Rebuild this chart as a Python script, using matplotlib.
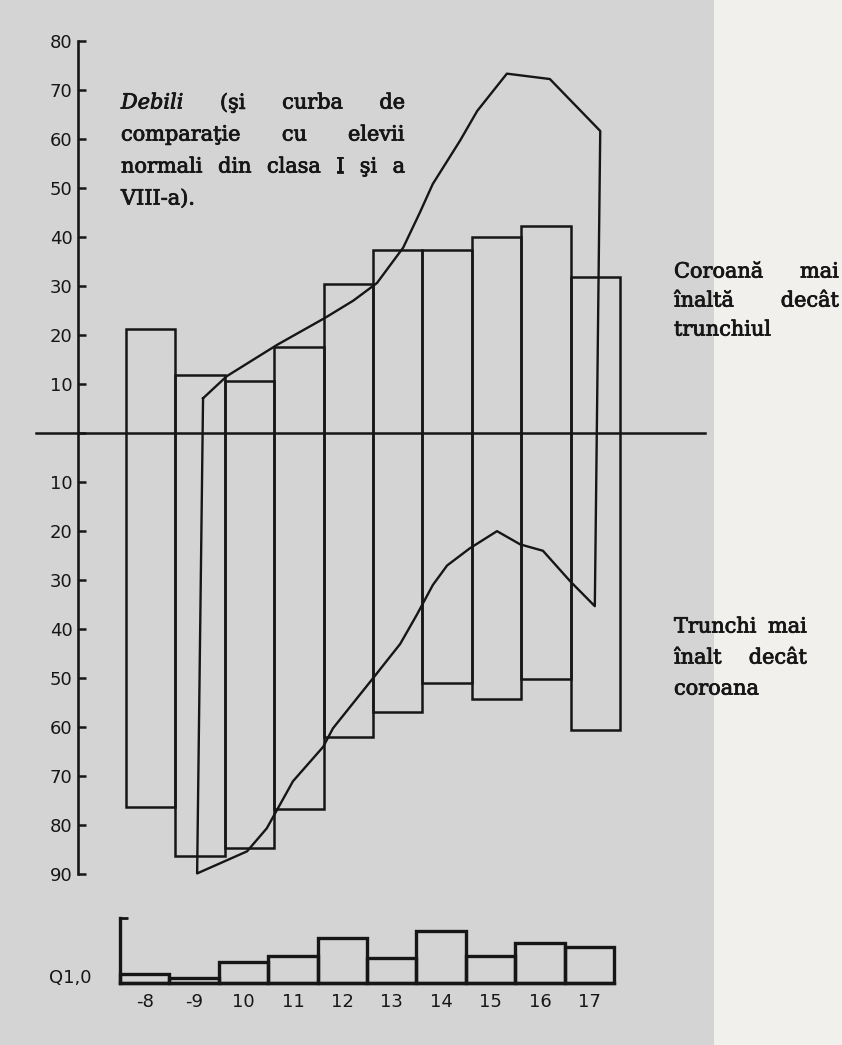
import matplotlib
matplotlib.use('Agg')

import numpy as np
from matplotlib import pyplot as plt
from matplotlib import patheffects as pe
from matplotlib.patches import Rectangle

W, H = 842, 1045
DPI = 100

# age groups (lower axis labels)
ages = ['-8', '-9', '10', '11', '12', '13', '14', '15', '16', '17']
# % crown taller than trunk (up) and trunk taller than crown (down)
crown_up = [21.2, 11.9, 10.6, 17.6, 30.3, 37.3, 37.3, 40.0, 42.2, 31.8]
trunk_down = [76.2, 86.3, 84.6, 76.7, 61.9, 56.8, 51.0, 54.2, 50.1, 60.5]

# comparison curve, normal pupils (x in bar units)
normal_up_x = [1.06, 1.54, 2.56, 3.53, 4.10, 4.58, 5.11, 5.45, 5.71, 6.26, 6.61, 7.21, 8.08, 9.10]
normal_up_y = [7.1, 11.6, 18.0, 23.5, 27.0, 30.6, 37.8, 45.0, 50.8, 59.6, 65.7, 73.3, 72.2, 61.6]
normal_dn_x = [0.94, 1.95, 2.35, 2.88, 3.49, 3.69, 4.50, 5.05, 5.39, 5.71, 6.00, 6.46, 7.01, 7.48, 7.94, 8.49, 8.99]
normal_dn_y = [89.8, 85.3, 80.6, 71.0, 64.0, 60.2, 50.0, 43.0, 37.0, 31.0, 27.0, 23.5, 20.0, 22.7, 24.0, 30.2, 35.3]

# Q values of the small lower panel
q_vals = [0.14, 0.08, 0.33, 0.41, 0.69, 0.38, 0.80, 0.42, 0.61, 0.55]

INK = '#161616'
BG = '#d4d4d4'

def fx(px):
    return px / W

def fy(py):
    return 1 - py / H

fig = plt.figure(figsize=(W / DPI, H / DPI), dpi=DPI, facecolor=BG)
# lighter paper strip on the right
fig.patches.append(Rectangle((fx(714), 0), 1 - fx(714), 1, transform=fig.transFigure,
                             facecolor='#f1f0ed', edgecolor='none', zorder=0))

#<main chart>
ax = fig.add_axes([fx(30), fy(895), (720 - 30) / W, (895 - 30) / H])
ax.set_facecolor('none')
ax.set_xlim(-2.443, 11.524)
ax.set_ylim(-94.2, 82.2)

x = np.arange(len(ages))
up = np.array(crown_up)
dn = np.array(trunk_down)
ax.bar(x, up + dn, bottom=-dn, width=1.0, fill=False, edgecolor=INK, linewidth=1.8)

cx = np.r_[normal_up_x, normal_dn_x[::-1], normal_up_x[0]]
cy = np.r_[normal_up_y, -np.array(normal_dn_y[::-1]), normal_up_y[0]]
ax.plot(cx, cy, color=INK, linewidth=1.7)

ax.axhline(0, xmin=(36 - 30) / 690, xmax=(705 - 30) / 690, color=INK, linewidth=1.8)

for s in ['top', 'right', 'bottom']:
    ax.spines[s].set_visible(False)
ax.spines['left'].set_position(('data', -1.47))
ax.spines['left'].set_bounds(-90, 80)
ax.spines['left'].set_linewidth(1.9)
ax.spines['left'].set_color(INK)
yt = np.arange(-90, 81, 10)
ax.set_yticks(yt)
ax.set_yticklabels(['' if v == 0 else str(abs(v)) for v in yt])
ax.tick_params(axis='y', direction='in', length=6, width=1.8, color=INK,
               labelsize=13, pad=4, labelcolor=INK)
ax.set_xticks([])

#<lower Q panel>
ax2 = fig.add_axes([fx(30), fy(1040), (720 - 30) / W, (1040 - 905) / H])
ax2.set_facecolor('none')
ax2.set_xlim(-2.322, 11.646)
ax2.set_ylim(-0.877, 1.2)
ax2.bar(x, q_vals, width=1.0, fill=False, edgecolor=INK, linewidth=2.4)
for s in ['top', 'right']:
    ax2.spines[s].set_visible(False)
ax2.spines['left'].set_position(('data', -0.5))
ax2.spines['left'].set_bounds(0, 1)
ax2.spines['bottom'].set_position(('data', 0))
ax2.spines['bottom'].set_bounds(-0.5, 9.5)
for s in ['left', 'bottom']:
    ax2.spines[s].set_linewidth(2.4)
    ax2.spines[s].set_color(INK)
ax2.set_yticks([1])
ax2.set_yticklabels([''])
ax2.tick_params(axis='y', direction='in', length=6, width=2.0, color=INK)
ax2.set_xticks(x)
ax2.set_xticklabels(ages)
ax2.tick_params(axis='x', length=0, pad=7, labelsize=13, labelcolor=INK)
ax2.text(-1.07, 0.07, 'Q1,0', ha='right', va='center', fontsize=13, color=INK)

#<justified serif notes>
renderer = fig.canvas.get_renderer()
SERIF = 'DejaVu Serif'
heavy = [pe.withStroke(linewidth=0.6, foreground=INK)]

def justify(words, x0, x1, py, fs=15, last=False):
    ts = []
    for w in words:
        style = 'normal'
        if isinstance(w, tuple):
            w, style = w
        t = fig.text(0, fy(py), w, ha='left', va='center', fontsize=fs,
                     family=SERIF, style=style, color=INK, path_effects=heavy)
        ts.append(t)
    widths = [t.get_window_extent(renderer).width for t in ts]
    if last or len(ts) == 1:
        gap = fs * 0.35
    else:
        gap = (x1 - x0 - sum(widths)) / (len(ts) - 1)
    pos = x0
    for t, wd in zip(ts, widths):
        t.set_x(fx(pos))
        pos += wd + gap

note = [
    [('Debili', 'italic'), '(şi', 'curba', 'de'],
    ['comparaţie', 'cu', 'elevii'],
    ['normali', 'din', 'clasa', 'I', 'şi', 'a'],
    ['VIII-a).'],
]
for i, line in enumerate(note):
    justify(line, 121, 405, 103 + i * 32, last=(i == len(note) - 1))

crown_note = [['Coroană', 'mai'], ['înaltă', 'decât'], ['trunchiul']]
for i, line in enumerate(crown_note):
    justify(line, 674, 839, 272 + i * 29, last=(i == 2))

trunk_note = [['Trunchi', 'mai'], ['înalt', 'decât'], ['coroana']]
for i, line in enumerate(trunk_note):
    justify(line, 674, 807, 627 + i * 31, last=(i == 2))

fig.savefig('out.png', dpi=DPI, facecolor=fig.get_facecolor())
print('success!')
